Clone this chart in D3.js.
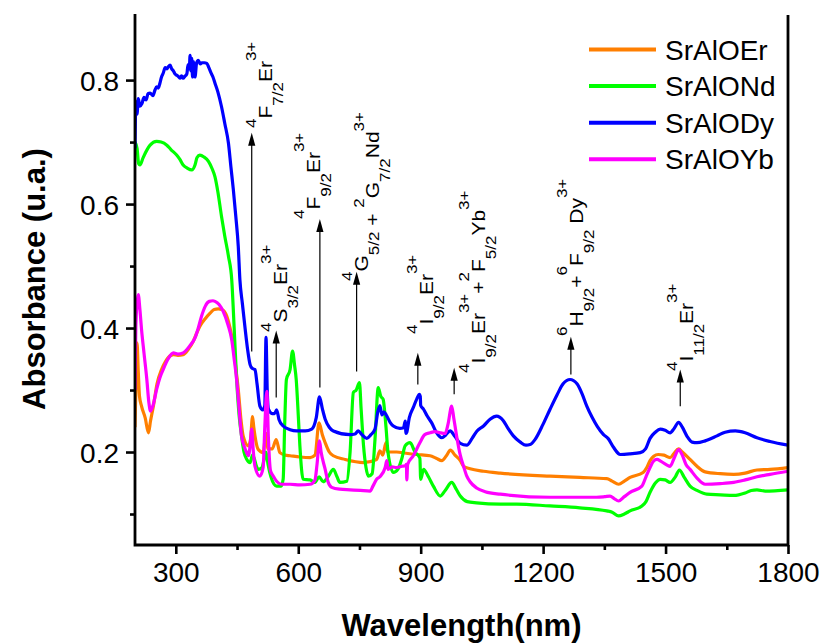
<!DOCTYPE html>
<html><head><meta charset="utf-8">
<script src="https://cdn.jsdelivr.net/npm/d3@7"></script>
<style>
body{margin:0;background:#fff}
text{font-family:Arial,"Liberation Sans",Helvetica,sans-serif;fill:#000}
</style>
</head><body>
<svg id="chart" width="822" height="644"></svg>
<script>
// ---------- data ----------
const seriesNames  = ["SrAlOEr", "SrAlONd", "SrAlODy", "SrAlOYb"];
const seriesColors = ["#ff7f00", "#00ff00", "#0000ff", "#ff00ff"];
const xTicks = [300, 600, 900, 1200, 1500, 1800];
const xMinor = [450, 750, 1050, 1350, 1650];
const yTicks = [0.2, 0.4, 0.6, 0.8];
const yMinor = [0.1, 0.3, 0.5, 0.7];

// [wavelength nm, absorbance]
const erData = [[200,0.24],[202,0.30],[205,0.376],[208,0.33],[211,0.29],[216,0.274],[225,0.255],[233,0.231],[238,0.25],[245,0.274],[254,0.31],[265,0.333],[274,0.345],[281,0.352],[294,0.357],[305,0.356],[318,0.357],[330,0.365],[343,0.379],[350,0.39],[359,0.403],[372,0.415],[384,0.424],[394,0.43],[404,0.431],[413,0.43],[425,0.419],[433,0.40],[441,0.371],[448,0.33],[453,0.301],[460,0.25],[465,0.226],[478,0.210],[483,0.22],[488,0.257],[491,0.24],[494,0.226],[502,0.204],[514,0.199],[521,0.23],[526,0.205],[536,0.205],[546,0.220],[555,0.199],[568,0.195],[580,0.194],[604,0.192],[629,0.191],[641,0.195],[651,0.247],[659,0.228],[666,0.215],[676,0.2],[686,0.194],[715,0.188],[760,0.183],[792,0.188],[800,0.202],[807,0.195],[815,0.215],[819,0.20],[841,0.2],[864,0.198],[890,0.196],[923,0.194],[938,0.19],[952,0.186],[962,0.193],[973,0.203],[984,0.195],[997,0.186],[1005,0.177],[1021,0.173],[1054,0.169],[1095,0.166],[1217,0.161],[1290,0.159],[1356,0.157],[1369,0.153],[1385,0.148],[1399,0.153],[1413,0.159],[1445,0.167],[1454,0.175],[1462,0.186],[1471,0.193],[1482,0.196],[1496,0.195],[1511,0.191],[1521,0.198],[1532,0.205],[1541,0.2],[1560,0.188],[1577,0.177],[1597,0.168],[1634,0.165],[1667,0.164],[1695,0.166],[1724,0.171],[1756,0.172],[1800,0.175]];

const ndData = [[200,0.70],[205,0.69],[209,0.665],[212,0.663],[220,0.675],[229,0.687],[237,0.695],[253,0.701],[264,0.700],[278,0.695],[288,0.688],[302,0.679],[310,0.672],[318,0.663],[328,0.658],[339,0.655],[347,0.663],[352,0.675],[359,0.679],[369,0.676],[380,0.669],[389,0.657],[396,0.644],[403,0.62],[412,0.58],[420,0.548],[429,0.516],[437,0.478],[443,0.40],[449,0.317],[455,0.26],[461,0.226],[467,0.20],[474,0.188],[482,0.183],[488,0.195],[492,0.19],[497,0.178],[502,0.172],[511,0.175],[517,0.19],[521,0.20],[526,0.18],[533,0.16],[547,0.145],[558,0.145],[563,0.156],[567,0.25],[571,0.317],[580,0.333],[586,0.363],[591,0.34],[595,0.317],[600,0.26],[604,0.21],[612,0.156],[629,0.155],[641,0.151],[651,0.16],[661,0.152],[673,0.16],[686,0.172],[695,0.16],[702,0.151],[719,0.153],[727,0.2],[735,0.296],[742,0.30],[750,0.312],[754,0.27],[760,0.21],[766,0.175],[772,0.161],[781,0.165],[788,0.22],[796,0.304],[802,0.29],[808,0.285],[815,0.24],[820,0.199],[833,0.167],[844,0.172],[854,0.19],[862,0.21],[874,0.215],[886,0.2],[898,0.19],[900,0.156],[907,0.172],[919,0.16],[931,0.145],[948,0.129],[960,0.138],[976,0.151],[987,0.14],[997,0.129],[1014,0.12],[1037,0.118],[1095,0.116],[1135,0.116],[1217,0.113],[1290,0.11],[1356,0.105],[1369,0.103],[1385,0.097],[1399,0.1],[1413,0.105],[1442,0.113],[1452,0.12],[1462,0.135],[1475,0.15],[1487,0.156],[1499,0.155],[1511,0.151],[1524,0.16],[1534,0.171],[1545,0.16],[1560,0.145],[1577,0.138],[1601,0.132],[1634,0.131],[1667,0.130],[1695,0.134],[1710,0.138],[1724,0.139],[1744,0.137],[1800,0.139]];

const dyData = [[200,0.69],[201,0.74],[203,0.765],[205,0.745],[208,0.77],[212,0.758],[217,0.762],[222,0.772],[227,0.768],[232,0.778],[237,0.779],[244,0.775],[249,0.784],[253,0.789],[257,0.787],[261,0.795],[265,0.805],[269,0.811],[274,0.82],[278,0.818],[282,0.822],[286,0.824],[290,0.818],[294,0.815],[298,0.81],[302,0.808],[306,0.806],[310,0.803],[314,0.807],[318,0.803],[322,0.806],[327,0.81],[330,0.825],[333,0.818],[335,0.840],[337,0.815],[339,0.835],[341,0.805],[343,0.83],[345,0.81],[347,0.805],[351,0.828],[355,0.832],[360,0.826],[364,0.828],[370,0.828],[376,0.827],[381,0.82],[386,0.812],[391,0.805],[396,0.795],[403,0.781],[412,0.757],[420,0.73],[429,0.698],[435,0.66],[441,0.623],[447,0.58],[453,0.532],[457,0.478],[463,0.44],[470,0.398],[476,0.365],[482,0.341],[487,0.335],[494,0.333],[499,0.31],[506,0.274],[513,0.268],[518,0.275],[521,0.385],[524,0.30],[527,0.269],[536,0.262],[542,0.262],[547,0.268],[553,0.252],[563,0.242],[580,0.236],[596,0.234],[617,0.234],[633,0.237],[644,0.255],[652,0.289],[659,0.27],[666,0.253],[676,0.240],[686,0.234],[727,0.228],[739,0.229],[747,0.234],[756,0.228],[768,0.222],[778,0.228],[788,0.237],[795,0.265],[800,0.275],[805,0.26],[810,0.265],[817,0.258],[825,0.248],[833,0.242],[849,0.238],[858,0.239],[862,0.25],[864,0.23],[866,0.232],[872,0.255],[882,0.272],[890,0.285],[897,0.293],[899,0.29],[900,0.275],[907,0.269],[916,0.258],[927,0.247],[938,0.232],[952,0.223],[962,0.228],[972,0.234],[984,0.225],[997,0.214],[1013,0.211],[1026,0.222],[1038,0.234],[1054,0.242],[1070,0.253],[1086,0.258],[1102,0.251],[1114,0.238],[1127,0.226],[1144,0.216],[1158,0.211],[1168,0.212],[1180,0.220],[1200,0.245],[1217,0.269],[1234,0.292],[1249,0.31],[1266,0.317],[1283,0.31],[1296,0.293],[1307,0.274],[1320,0.256],[1333,0.241],[1348,0.228],[1359,0.222],[1372,0.208],[1389,0.196],[1413,0.197],[1438,0.199],[1451,0.205],[1462,0.222],[1475,0.232],[1487,0.237],[1499,0.235],[1511,0.231],[1521,0.238],[1532,0.248],[1541,0.24],[1553,0.225],[1565,0.216],[1577,0.215],[1597,0.218],[1626,0.226],[1646,0.232],[1671,0.234],[1695,0.231],[1724,0.223],[1756,0.217],[1800,0.211]];

const ybData = [[200,0.30],[202,0.40],[205,0.44],[208,0.454],[212,0.43],[216,0.398],[222,0.36],[229,0.317],[234,0.28],[238,0.266],[244,0.275],[253,0.301],[261,0.32],[269,0.333],[281,0.35],[294,0.360],[305,0.358],[318,0.360],[335,0.372],[347,0.384],[355,0.40],[363,0.419],[372,0.435],[382,0.443],[391,0.444],[396,0.443],[406,0.438],[416,0.427],[428,0.405],[437,0.381],[443,0.35],[449,0.317],[455,0.27],[461,0.226],[470,0.205],[478,0.194],[482,0.21],[486,0.237],[490,0.2],[494,0.177],[506,0.161],[514,0.175],[518,0.24],[523,0.298],[527,0.22],[532,0.17],[539,0.161],[548,0.152],[559,0.148],[580,0.148],[604,0.147],[629,0.148],[641,0.155],[646,0.18],[652,0.218],[656,0.2],[666,0.172],[673,0.152],[682,0.143],[702,0.140],[727,0.139],[752,0.138],[776,0.137],[783,0.145],[792,0.156],[800,0.16],[813,0.175],[817,0.186],[820,0.172],[830,0.176],[841,0.175],[854,0.177],[862,0.178],[865,0.18],[866,0.155],[868,0.18],[882,0.194],[898,0.215],[910,0.228],[923,0.231],[935,0.233],[948,0.231],[960,0.23],[967,0.245],[976,0.274],[981,0.255],[988,0.226],[997,0.195],[1005,0.177],[1013,0.161],[1021,0.152],[1037,0.142],[1058,0.136],[1095,0.132],[1217,0.127],[1331,0.127],[1351,0.128],[1364,0.129],[1374,0.125],[1385,0.121],[1399,0.128],[1413,0.135],[1442,0.145],[1452,0.16],[1462,0.175],[1470,0.185],[1479,0.188],[1489,0.185],[1511,0.177],[1521,0.19],[1532,0.204],[1541,0.195],[1550,0.18],[1560,0.172],[1577,0.158],[1597,0.148],[1634,0.149],[1667,0.151],[1695,0.155],[1724,0.160],[1756,0.164],[1800,0.169]];

// annotation arrows: wavelength, bottom absorbance, tip absorbance
const arrowWave = [486, 546, 653, 743, 893, 982, 1268, 1536];
const arrowBase = [0.362, 0.288, 0.304, 0.330, 0.309, 0.293, 0.325, 0.274];
const arrowTip  = [0.715, 0.396, 0.576, 0.491, 0.360, 0.336, 0.386, 0.333];
// label pieces: [text, kind]  n=normal p=superscript b=subscript ; N/P/B = same, baseline dropped to subscript level
const labelPieces = [
  [["4","p"],["F","n"],["7/2","b"],["Er","n"],["3+","p"]],
  [["4","p"],["S","n"],["3/2","b"],["Er","n"],["3+","p"]],
  [["4","p"],["F","n"],["9/2","b"],["Er","n"],["3+","p"]],
  [["4","p"],["G","n"],["5/2","b"],["\u00a0+\u00a0","N"],["2","P"],["G","N"],["7/2","B"],["Nd","N"],["3+","P"]],
  [["4","p"],["I","n"],["9/2","b"],["Er","n"],["3+","p"]],
  [["4","p"],["I","n"],["9/2","b"],["Er","n"],["3+","p"],["+","n"],["2","p"],["F","n"],["5/2","b"],["Yb","n"],["3+","p"]],
  [["6","p"],["H","n"],["9/2","b"],["+","n"],["6","p"],["F","n"],["9/2","b"],["\u00a0Dy","n"],["3+","p"]],
  [["4","p"],["I","n"],["11/2","b"],["Er","n"],["3+","p"]]
];
// label anchors (screen): baseline x, start y
const labelBaseX  = [272, 286.5, 319.5, 368, 433, 484.5, 583, 693];
const labelStartY = [128, 332, 219, 281, 334, 373, 336, 371];

// ---------- chart ----------
const svg = d3.select("#chart");
const L = 135, R = 788, T = 15, B = 545;
const x = d3.scaleLinear().domain([200, 1800]).range([L, R]);
const y = d3.scaleLinear().domain([0.05, 0.905]).range([B, T]);

svg.append("defs").append("clipPath").attr("id","clip")
  .append("rect").attr("x",L).attr("y",T).attr("width",R-L).attr("height",B-T);

const line = d3.line().x(d => x(d[0])).y(d => y(d[1])).curve(d3.curveMonotoneX);
const allData = [erData, ndData, dyData, ybData];
const plot = svg.append("g").attr("clip-path","url(#clip)");
allData.forEach((ds, i) => {
  plot.append("path").datum(ds).attr("d", line)
    .attr("fill","none").attr("stroke", seriesColors[i])
    .attr("stroke-width", 3.2).attr("stroke-linejoin","round");
});

// axes
const axisW = 2.8;
const xAxis = svg.append("g").attr("transform",`translate(0,${B})`)
  .call(d3.axisBottom(x).tickValues(xTicks).tickSize(9).tickPadding(8).tickFormat(d3.format("d")));
const xAxisMinor = svg.append("g").attr("transform",`translate(0,${B})`)
  .call(d3.axisBottom(x).tickValues(xMinor).tickSize(5).tickFormat(""));
const yAxis = svg.append("g").attr("transform",`translate(${L},0)`)
  .call(d3.axisLeft(y).tickValues(yTicks).tickSize(9).tickPadding(7).tickFormat(d3.format(".1f")));
const yAxisMinor = svg.append("g").attr("transform",`translate(${L},0)`)
  .call(d3.axisLeft(y).tickValues(yMinor).tickSize(5).tickFormat(""));
[xAxis, xAxisMinor, yAxis, yAxisMinor].forEach(g => {
  g.select(".domain").remove();
  g.selectAll(".tick line").attr("stroke","#000").attr("stroke-width",2.6);
  g.selectAll(".tick text").attr("font-size",28).attr("font-family","Arial, 'Liberation Sans', sans-serif").attr("fill","#000");
});
yAxis.selectAll(".tick text").attr("dy","0.36em");
// frame lines (left, bottom, right)
svg.append("path")
  .attr("d",`M${L},${T-1}V${B}H${R}V${T}`)
  .attr("fill","none").attr("stroke","#000").attr("stroke-width",axisW).attr("stroke-linejoin","miter");

// axis titles
svg.append("text").attr("x",(L+R)/2).attr("y",636).attr("text-anchor","middle")
  .attr("font-size",31).attr("font-weight","bold").text("Wavelength(nm)");
svg.append("text").attr("transform",`translate(45,${(T+B)/2-1}) rotate(-90)`)
  .attr("text-anchor","middle").attr("font-size",31).attr("font-weight","bold").text("Absorbance (u.a.)");

// legend
const legY0 = 49.5, legStep = 36.6;
seriesNames.forEach((n, i) => {
  const yy = legY0 + i*legStep;
  svg.append("line").attr("x1",589).attr("x2",656).attr("y1",yy).attr("y2",yy)
    .attr("stroke",seriesColors[i]).attr("stroke-width",4);
  svg.append("text").attr("x",665).attr("y",yy+10).attr("font-size",28).text(n);
});

// arrows
const headL = 13, headW = 3.6;
arrowWave.forEach((w, i) => {
  const ax = x(w), yb = y(arrowBase[i]), yt = y(arrowTip[i]);
  svg.append("line").attr("x1",ax).attr("x2",ax).attr("y1",yb).attr("y2",yt+headL-1)
    .attr("stroke","#000").attr("stroke-width",1.2);
  svg.append("path").attr("d",`M${ax},${yt}L${ax-headW},${yt+headL}L${ax+headW},${yt+headL}Z`).attr("fill","#000");
});

// rotated labels (slightly condensed across the reading direction, as in the original)
const mainSize = 21, smallSize = 17, squeeze = 0.88;
const shiftFor = {n:0, p:-17.7, b:12.5, N:13, P:-4.7, B:25.5};
labelPieces.forEach((pieces, i) => {
  const g = svg.append("g").attr("transform",`translate(${labelBaseX[i]},${labelStartY[i]}) scale(${squeeze},1) rotate(-90)`);
  const t = g.append("text").attr("x",0).attr("y",0);
  pieces.forEach(([s, k]) => {
    const small = (k === "p" || k === "b" || k === "P" || k === "B");
    t.append("tspan").attr("y", shiftFor[k]).attr("font-size", small ? smallSize : mainSize).text(s);
  });
});
</script>
</body></html>
